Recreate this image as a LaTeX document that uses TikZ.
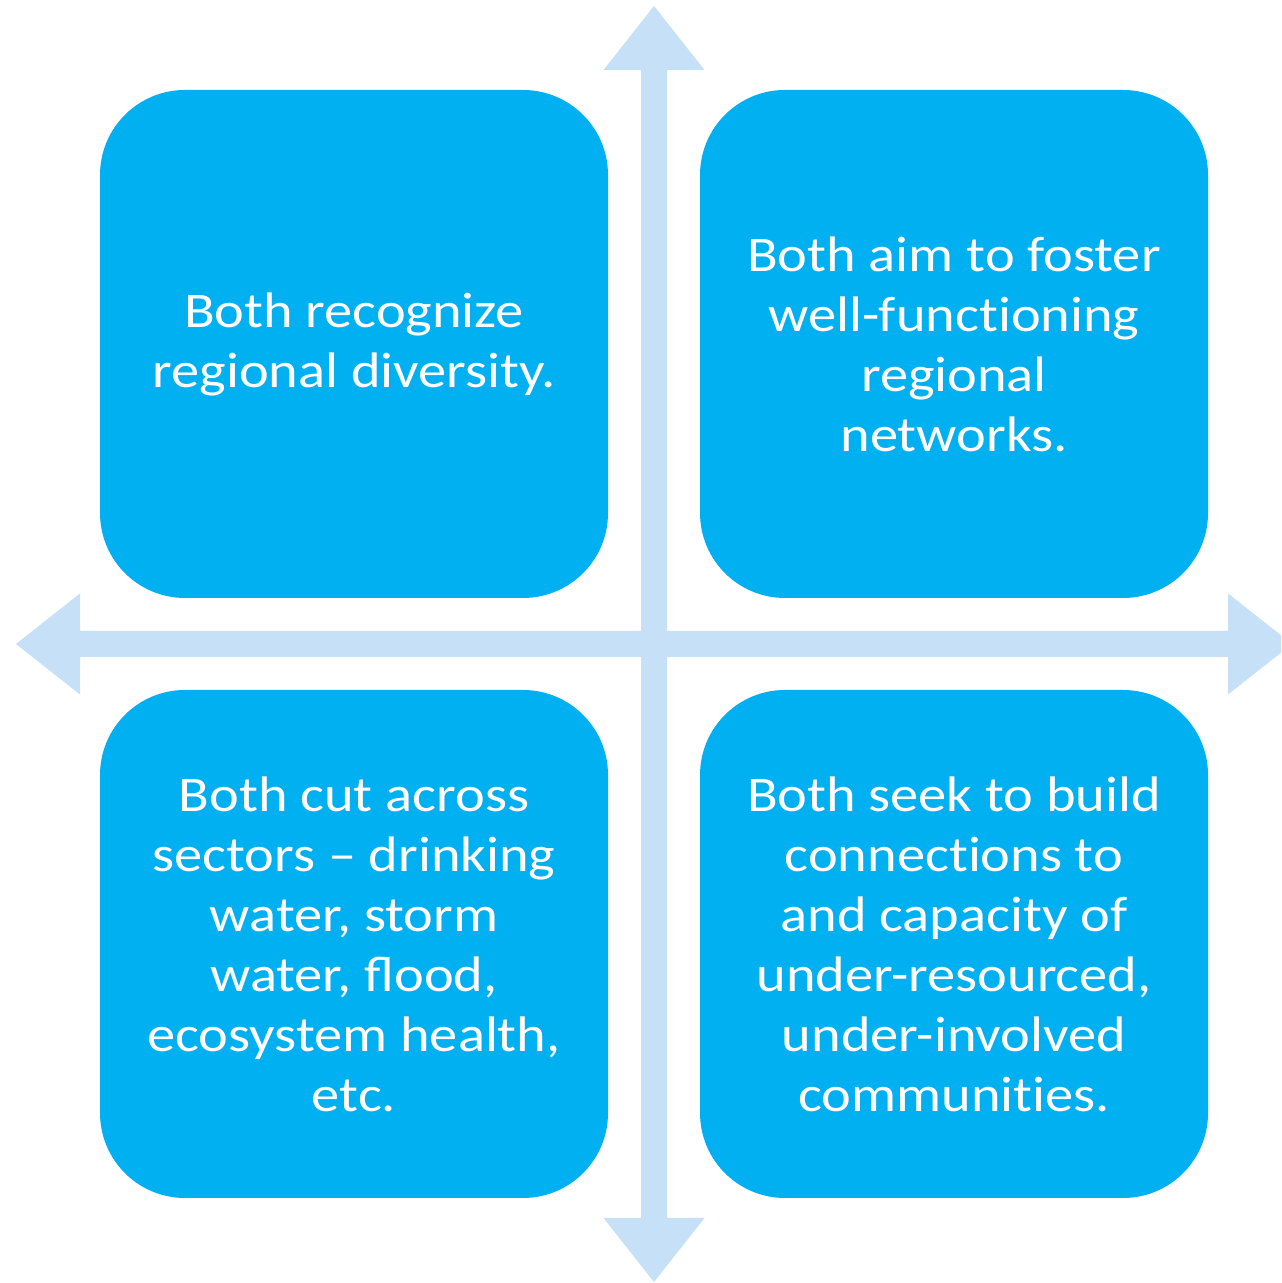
\documentclass[tikz,border=0pt]{standalone}
\usepackage{fontspec}
\setmainfont{Carlito}[FakeStretch=1.13,Ligatures=NoCommon]
\usepackage{tikz}

\begin{document}
\begin{tikzpicture}
% Define colours
\definecolor{quad}{RGB}{0,176,240}
\definecolor{axis}{RGB}{198,224,247}
\tikzset{
  quadbox/.style={fill=quad,text=white,rounded corners=0.85cm,minimum width=5.08cm,
    minimum height=5.08cm,align=center,font=\fontsize{14.2}{17.07}\selectfont},
  crossarrow/.style={fill=axis}
}
\useasboundingbox (0,0) rectangle (12.81,12.83);
\clip (0,0) rectangle (12.81,12.83);

% Draw the crossing arrows
\begin{scope}[shift={(6.54,6.39)}]
\fill[crossarrow] (0,6.38) -- (0.505,5.74) -- (0.13,5.74) -- (0.13,-5.74) -- (0.505,-5.74)
  -- (0,-6.38) -- (-0.505,-5.74) -- (-0.13,-5.74) -- (-0.13,5.74) -- (-0.505,5.74) -- cycle;
\fill[crossarrow,rotate=90] (0,6.38) -- (0.505,5.74) -- (0.13,5.74) -- (0.13,-5.74) -- (0.505,-5.74)
  -- (0,-6.38) -- (-0.505,-5.74) -- (-0.13,-5.74) -- (-0.13,5.74) -- (-0.505,5.74) -- cycle;
\end{scope}

% Draw the four quadrants
\node[quadbox] (diversity) at (3.54,9.39) {Both recognize\\regional diversity.};
\node[quadbox] (networks) at (9.54,9.39) {Both aim to foster\\well-functioning\\regional\\networks.};
\node[quadbox] (sectors) at (3.54,3.39) {Both cut across\\sectors -- drinking\\water, storm\\water, ﬂood,\\ecosystem health,\\etc.};
\node[quadbox] (communities) at (9.54,3.39) {Both seek to build\\connections to\\and capacity of\\under-resourced,\\under-involved\\communities.};
\end{tikzpicture}
\end{document}
